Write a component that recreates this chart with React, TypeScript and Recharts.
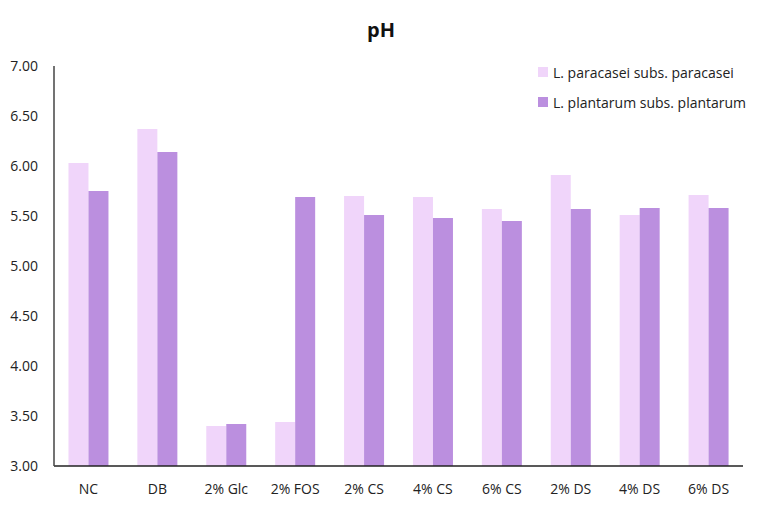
import { BarChart, Bar, XAxis, YAxis } from "recharts";

const categories = ["NC", "DB", "2% Glc", "2% FOS", "2% CS", "4% CS", "6% CS", "2% DS", "4% DS", "6% DS"];
const paracasei = [6.03, 6.37, 3.40, 3.44, 5.70, 5.69, 5.57, 5.91, 5.51, 5.71];
const plantarum = [5.75, 6.14, 3.42, 5.69, 5.51, 5.48, 5.45, 5.57, 5.58, 5.58];
const yTicks = [3, 3.5, 4, 4.5, 5, 5.5, 6, 6.5, 7];

const SERIES = [
  { key: "paracasei", name: "L. paracasei subs. paracasei", color: "#F0D5FA" },
  { key: "plantarum", name: "L. plantarum subs. plantarum", color: "#BB8FDF" },
];

const FONT = "'Open Sans', 'Noto Sans', sans-serif";

const data = categories.map((c, i) => ({
  name: c,
  paracasei: paracasei[i],
  plantarum: plantarum[i],
}));

export default function App() {
  return (
    <div style={{ position: "absolute", top: 0, left: 0, width: 762, height: 508, background: "#fff" }}>
      <div
        style={{
          position: "absolute",
          top: 16,
          left: 0,
          width: 762,
          textAlign: "center",
          fontFamily: FONT,
          fontWeight: 700,
          fontSize: 20,
          color: "#111",
        }}
      >
        pH
      </div>
      {/* legend sits inside the plot, top right */}
      <div
        style={{
          position: "absolute",
          top: 57,
          left: 538,
          fontFamily: FONT,
          fontSize: 14,
          color: "#222",
          zIndex: 2,
        }}
      >
        {SERIES.map((s) => (
          <div key={s.key} style={{ display: "flex", alignItems: "center", height: 30 }}>
            <span style={{ width: 10, height: 10, background: s.color, marginRight: 5 }} />
            {s.name}
          </div>
        ))}
      </div>
      <BarChart
        width={762}
        height={508}
        data={data}
        margin={{ top: 66, right: 19, bottom: 0, left: 0 }}
        barCategoryGap="21%"
        barGap={0}
      >
        <XAxis
          dataKey="name"
          height={42}
          interval={0}
          tickLine={false}
          axisLine={{ stroke: "#222", strokeWidth: 1.5 }}
          tick={{ fontSize: 14, fill: "#222", fontFamily: FONT }}
          tickMargin={12}
        />
        <YAxis
          width={54}
          domain={[3, 7]}
          ticks={yTicks}
          tickLine={false}
          axisLine={{ stroke: "#444", strokeWidth: 1.5 }}
          tick={{ fontSize: 14, fill: "#222", fontFamily: FONT }}
          tickFormatter={(v: number) => v.toFixed(2)}
          tickMargin={10}
          interval={0}
        />
        {SERIES.map((s) => (
          <Bar key={s.key} dataKey={s.key} name={s.name} fill={s.color} isAnimationActive={false} />
        ))}
      </BarChart>
    </div>
  );
}
